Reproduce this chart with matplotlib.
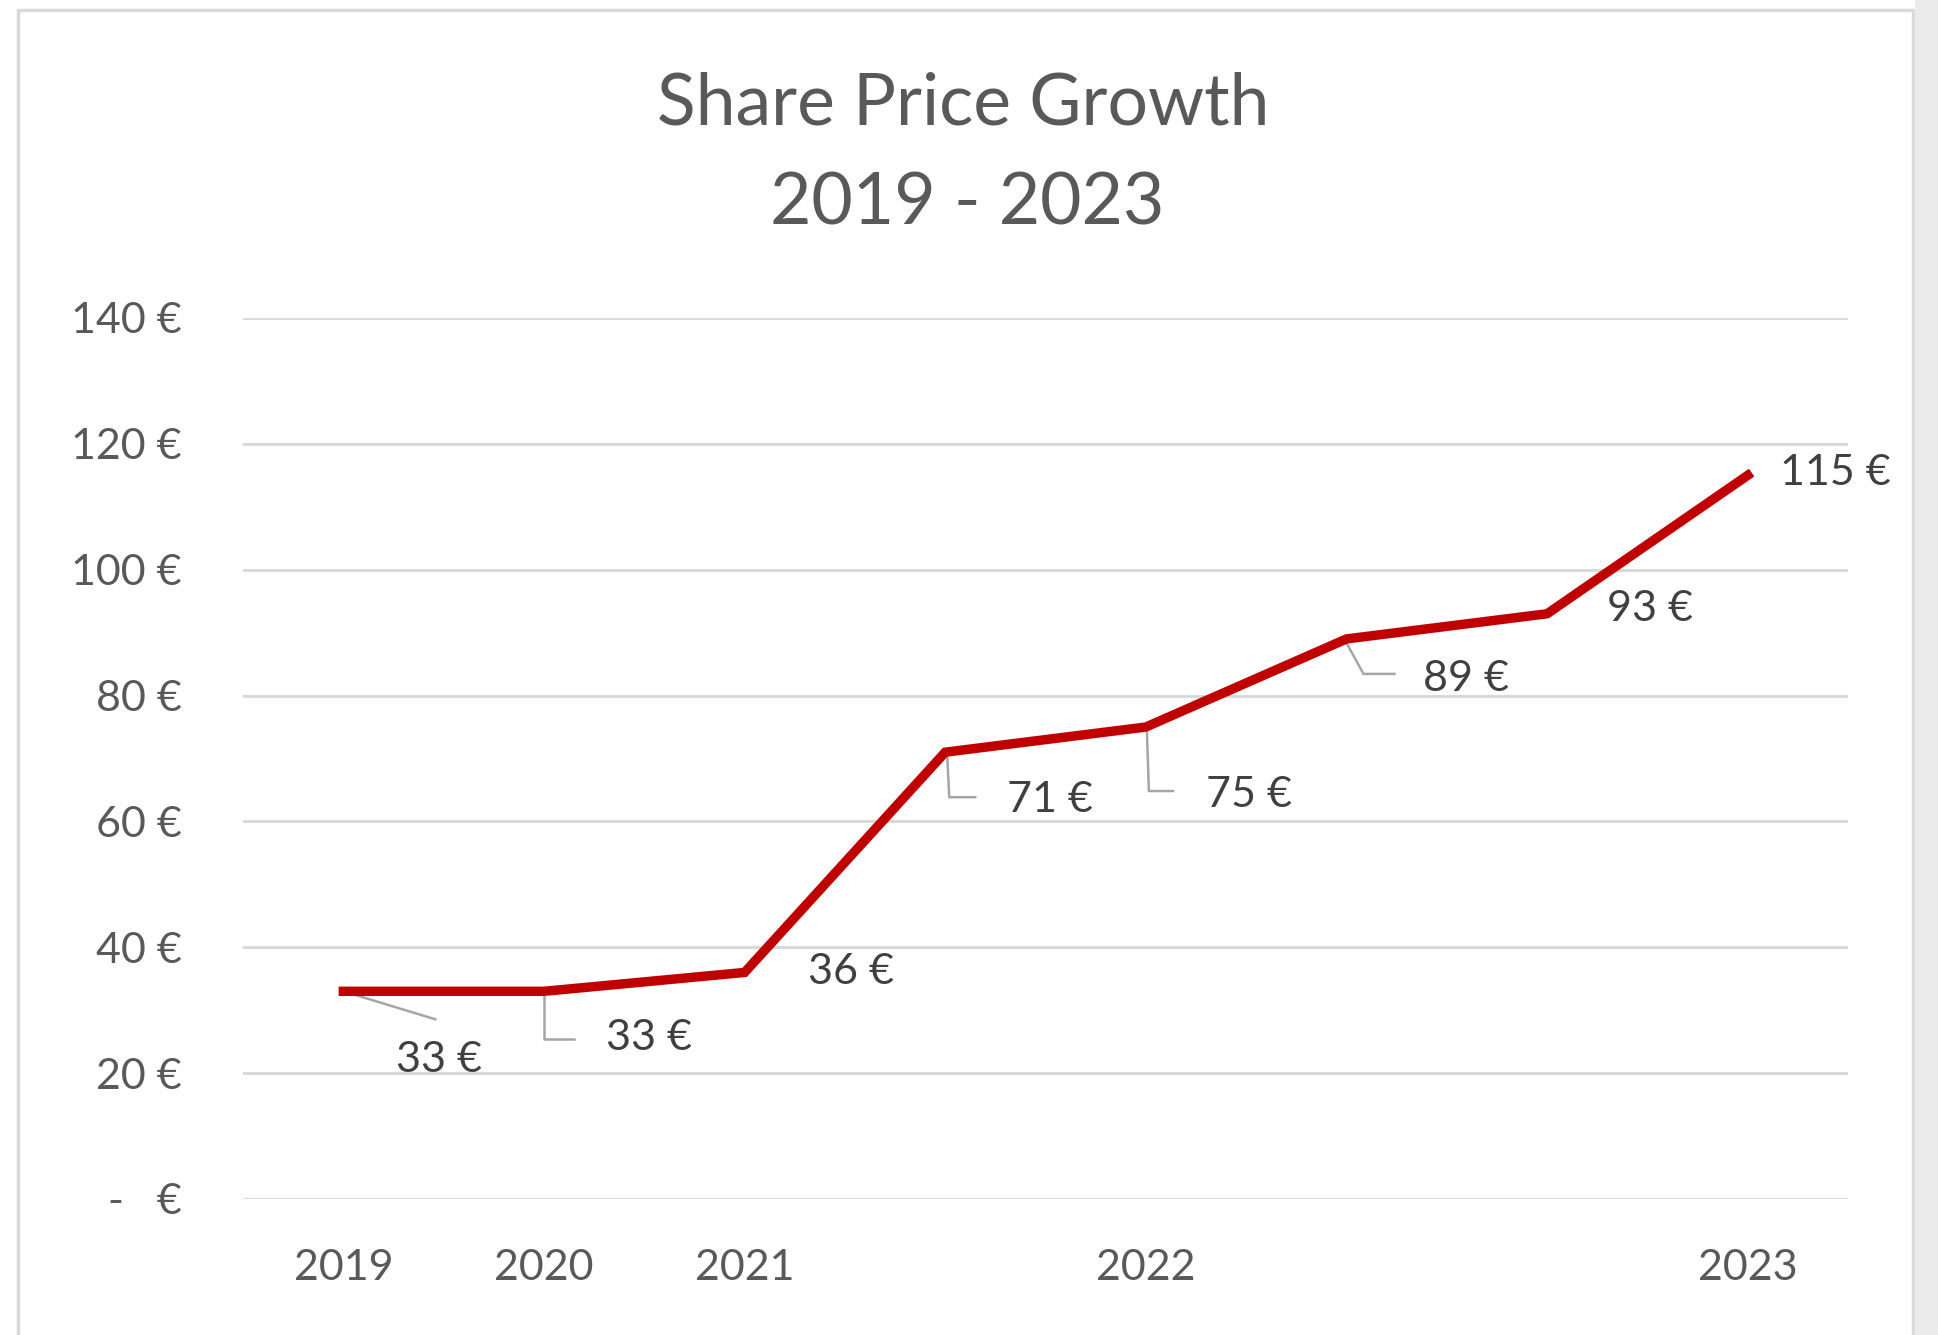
import matplotlib.pyplot as plt
import matplotlib.patches as patches
import numpy as np

# data
categories = ['2019', '2020', '2021', '', '2022', '', '', '2023']
prices = [33, 33, 36, 71, 75, 89, 93, 115]
price_labels = ['33 €', '33 €', '36 €', '71 €', '75 €', '89 €', '93 €', '115 €']
yticks = [0, 20, 40, 60, 80, 100, 120, 140]
ytick_labels = ['-   €', '20 €', '40 €', '60 €', '80 €', '100 €', '120 €', '140 €']

# label offsets in pixels (dx right, dy up) from each point, left edge / centre
label_offsets = [(53, -69), (62, -47), (63, 0), (62, -48),
                 (60, -68), (77, -40), (60, 5), (32, 2)]
# leader line vertices in pixel offsets from the point (None = no leader)
leaders = [[(0, 0), (92, -28)],
           [(0, -3), (0, -48), (30, -48)],
           None,
           [(2, -3), (4, -45), (30, -45)],
           [(1, -3), (3, -64), (27, -64)],
           [(0, -4), (17, -35), (48, -35)],
           None, None]

plt.rcParams['font.family'] = ['Lato', 'DejaVu Sans']

fig = plt.figure(figsize=(19.38, 13.35), dpi=100)
fig.patch.set_facecolor('white')

# chart frame
frame = patches.Rectangle((0.0093, -0.02), 0.978, 1.0125, transform=fig.transFigure,
                          facecolor='white', edgecolor='#D9D9D9', linewidth=2.5, zorder=-2)
fig.patches.append(frame)
shadow = patches.Rectangle((0.988, 0), 0.012, 1.0, transform=fig.transFigure,
                           facecolor='#EBEBEB', edgecolor='none', zorder=-2)
fig.patches.append(shadow)

ax = fig.add_axes([0.1254, 0.1019, 0.8282, 0.6599])
ax.set_facecolor('none')

x = np.arange(len(prices))
ax.plot(x, prices, color='#C00000', linewidth=6.8, solid_joinstyle='miter', zorder=3)

ax.set_xlim(-0.5, len(prices) - 0.5)
ax.set_ylim(0, 140)
ax.set_yticks(yticks)
ax.set_yticklabels(ytick_labels)
ax.set_xticks(x)
ax.set_xticklabels(categories)
ax.tick_params(axis='y', length=0, pad=44, labelsize=31, labelcolor='#595959')
ax.tick_params(axis='x', length=0, pad=36, labelsize=31, labelcolor='#595959')
for s in ax.spines.values():
    s.set_visible(False)
ax.grid(axis='y', color='#D9D9D9', linewidth=2.2)
ax.set_axisbelow(True)

fig.text(0.497, 0.922, 'Share Price Growth', ha='center', va='center',
         fontsize=51.5, color='#595959')
fig.text(0.499, 0.847, '2019 - 2023', ha='center', va='center',
         fontsize=51.5, color='#595959')

# data labels with leader lines
to_disp = ax.transData.transform
to_data = ax.transData.inverted().transform
for i, (v, lab) in enumerate(zip(prices, price_labels)):
    px, py = to_disp((x[i], v))
    dx, dy = label_offsets[i]
    tx, ty = to_data((px + dx, py + dy))
    ax.text(tx, ty, lab, ha='left', va='center', fontsize=31, color='#404040', zorder=4)
    if leaders[i] is not None:
        pts = np.array([to_data((px + a, py + b)) for a, b in leaders[i]])
        ax.plot(pts[:, 0], pts[:, 1], color='#A6A6A6', linewidth=1.8, zorder=2,
                clip_on=False)

fig.savefig('out.png', dpi=100)
